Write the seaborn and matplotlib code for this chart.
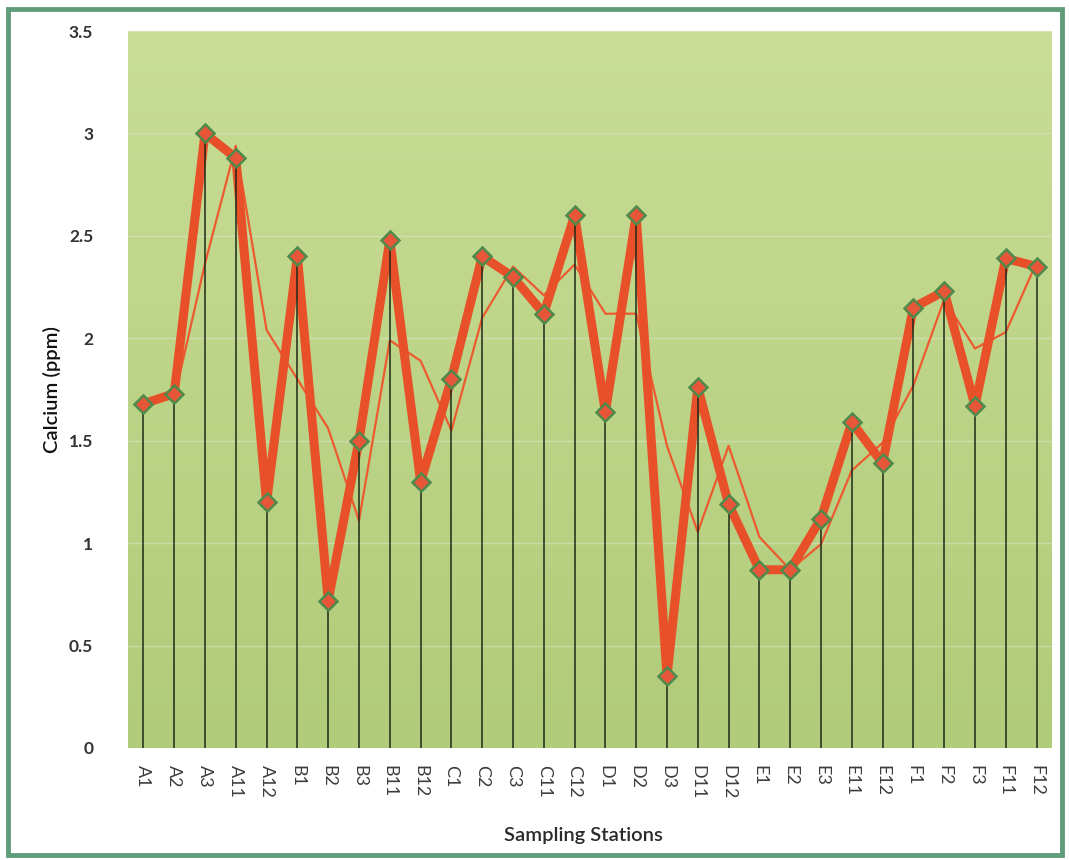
import numpy as np
import pandas as pd
import matplotlib
matplotlib.use("Agg")
import matplotlib.pyplot as plt
import seaborn as sns
from matplotlib.patches import Rectangle
from matplotlib.colors import LinearSegmentedColormap

stations = ["A1", "A2", "A3", "A11", "A12", "B1", "B2", "B3", "B11", "B12",
            "C1", "C2", "C3", "C11", "C12", "D1", "D2", "D3", "D11", "D12",
            "E1", "E2", "E3", "E11", "E12", "F1", "F2", "F3", "F11", "F12"]
calcium = [1.68, 1.73, 3.00, 2.88, 1.20, 2.40, 0.72, 1.50, 2.48, 1.30,
           1.80, 2.40, 2.30, 2.12, 2.60, 1.64, 2.60, 0.35, 1.76, 1.19,
           0.87, 0.87, 1.12, 1.59, 1.39, 2.15, 2.23, 1.67, 2.39, 2.35]
y_ticks = [0, 0.5, 1, 1.5, 2, 2.5, 3, 3.5]
y_tick_labels = ["0", "0.5", "1", "1.5", "2", "2.5", "3", "3.5"]

df = pd.DataFrame({"station": stations, "calcium": calcium})
df["pos"] = np.arange(len(df))
df["ma"] = df["calcium"].rolling(2).mean()

sns.set_theme(style="white")
plt.rcParams["font.family"] = ["Lato", "DejaVu Sans"]

fig = plt.figure(figsize=(10.69, 8.6), dpi=100)
ax = fig.add_axes([128 / 1069, 1 - 748 / 860, (1052 - 128) / 1069, (748 - 31) / 860])

# gradient background: lighter at top, greener at bottom
grad = np.linspace(0, 1, 256).reshape(-1, 1)
cmap = LinearSegmentedColormap.from_list("bg", ["#c9dd96", "#b0cb79"])
ax.imshow(grad, aspect="auto", cmap=cmap, extent=[-0.5, 29.5, 0, 3.5],
          zorder=0, origin="upper")

for yt in y_ticks[1:]:
    ax.axhline(yt, color="#dbe4c8", lw=1.0, alpha=0.6, zorder=1)

ma_df = df.dropna(subset=["ma"])
sns.lineplot(data=ma_df, x="pos", y="ma", ax=ax, color="#ee5a30", lw=1.6,
             zorder=2, legend=False)
sns.lineplot(data=df, x="pos", y="calcium", ax=ax, color="#e8502a", lw=6.5,
             zorder=3, legend=False, solid_joinstyle="round")
ax.vlines(df["pos"], 0, df["calcium"], color="#1f2a18", lw=1.1, zorder=4)
ax.plot(df["pos"], df["calcium"], ls="none", marker="D", markersize=9.5,
        markerfacecolor="#e8563a", markeredgecolor="#4f8a4a",
        markeredgewidth=1.8, zorder=5)

ax.set_xlim(-0.5, 29.5)
ax.set_ylim(0, 3.5)
ax.set_xticks(df["pos"])
ax.set_xticklabels(stations, rotation=270, fontsize=13, color="#3c3c3c")
ax.set_yticks(y_ticks)
ax.set_yticklabels(y_tick_labels, fontsize=12.5, color="#333333", fontweight="bold")
ax.tick_params(axis="y", pad=25, length=0)
ax.tick_params(axis="x", pad=12, length=0)
for s in ax.spines.values():
    s.set_visible(False)

ax.set_xlabel("Sampling Stations", fontsize=14.5, color="#2a2a2a", fontweight="semibold")
ax.set_ylabel("Calcium (ppm)", fontsize=14.5, color="#111111", fontweight="semibold")
ax.xaxis.set_label_coords((583 - 128) / 924, -0.11)
ax.yaxis.set_label_coords(-0.072, 0.5)

fig.patches.append(Rectangle((8 / 1069, 5 / 860), 1054 / 1069, 846 / 860,
                             transform=fig.transFigure, fill=False,
                             edgecolor="#5f9c7a", lw=3.5, zorder=10))

fig.savefig("out.png", dpi=100)
